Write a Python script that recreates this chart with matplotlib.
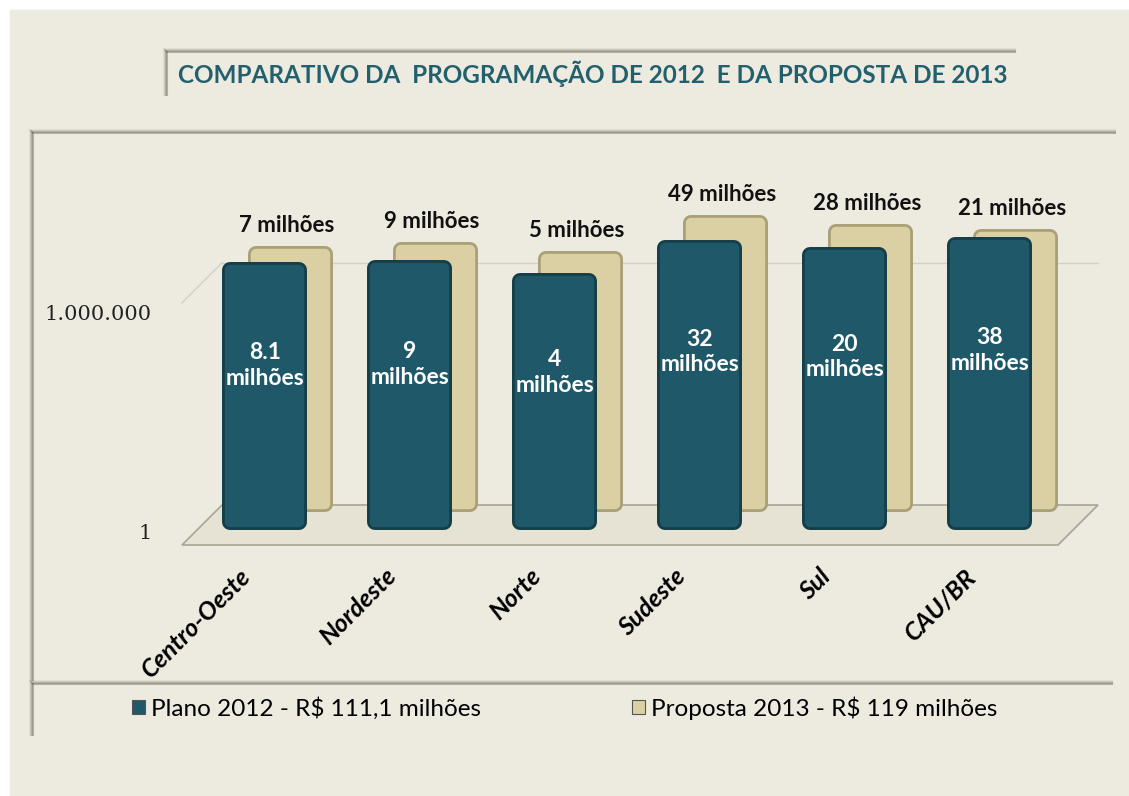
import numpy as np
import matplotlib
matplotlib.use("Agg")
from matplotlib import pyplot as plt
from matplotlib.transforms import offset_copy, ScaledTranslation
from matplotlib.patches import Rectangle, Polygon
from matplotlib.ticker import FixedLocator, FixedFormatter

#%% Dados

regioes = ["Centro-Oeste", "Nordeste", "Norte", "Sudeste", "Sul", "CAU/BR"]
plano_2012 = [8.1e6, 9e6, 4e6, 32e6, 20e6, 38e6]
proposta_2013 = [7e6, 9e6, 5e6, 49e6, 28e6, 21e6]
rot_2012 = ["8.1\nmilhões", "9\nmilhões", "4\nmilhões", "32\nmilhões", "20\nmilhões", "38\nmilhões"]
rot_2013 = ["7 milhões", "9 milhões", "5 milhões", "49 milhões", "28 milhões", "21 milhões"]
legenda = ["Plano 2012 - R$ 111,1 milhões", "Proposta 2013 - R$ 119 milhões"]
titulo = "COMPARATIVO DA  PROGRAMAÇÃO DE 2012  E DA PROPOSTA DE 2013"

#%% Cores

fundo = "#EDEADF"
azul = "#1F5969"
azul_borda = "#153E49"
bege = "#DAD0A3"
bege_borda = "#A9A077"
titulo_cor = "#22606E"

W, H = 1129, 796
fig = plt.figure(figsize=(W / 100, H / 100), dpi=100, facecolor="white")


def px(x, y, w, h):
    # caixa em pixels (origem no topo) -> fração da figura
    return [x / W, 1 - (y + h) / H, w / W, h / H]


# fundo geral
bg = fig.add_axes([0, 0, 1, 1])
bg.set_xlim(0, W)
bg.set_ylim(H, 0)
bg.axis("off")
bg.add_patch(Rectangle((10, 10), W, H, color=fundo, zorder=0))


def sombra(x0, y0, x1, y1):
    # sombra de painel (topo e esquerda)
    for i, a in enumerate([0.45, 0.3, 0.18, 0.08]):
        bg.plot([x0 - i, x1], [y0 - i, y0 - i], color="#6E6A5C", alpha=a, lw=1.5, zorder=1)
        bg.plot([x0 - i, x0 - i], [y0 - i, y1], color="#6E6A5C", alpha=a, lw=1.5, zorder=1)


sombra(167, 52, 1015, 95)
sombra(33, 133, 1115, 680)
sombra(33, 684, 1112, 735)
bg.text(178, 74, titulo, color=titulo_cor, fontsize=17.5, fontweight="bold",
        family="Lato", va="center", ha="left")

#%% Gráfico

ax = fig.add_axes(px(182, 200, 876, 345))
ax.set_facecolor("none")
ax.set_yscale("log")
ax.set_xlim(-0.57, 5.47)
ax.set_ylim(0.234, 6.6e8)
for s in ax.spines.values():
    s.set_visible(False)

x = np.arange(len(regioes))
larg = 0.476
base = 1

# piso e parede de fundo (perspectiva)
dx, dy = 40, 40
fundo_tr = offset_copy(ax.transData, fig=fig, x=dx, y=dy, units="dots")
chao = Polygon([[0, 0], [1, 0], [1 + dx / 876, dy / 345], [dx / 876, dy / 345]],
               closed=True, transform=ax.transAxes, facecolor="#E6E2D4",
               edgecolor="#A8A596", lw=1.2, zorder=0, clip_on=False)
ax.add_patch(chao)
ax.plot([-0.57, 5.47], [1e6, 1e6], color="#D3D0C4", lw=1, transform=fundo_tr, zorder=0, clip_on=False)
ax.plot([-0.57, -0.57 + dx / 145], [1e6, 1e6 * 10 ** (dy / 36.5)], color="#D3D0C4", lw=1,
        zorder=0, clip_on=False)


def barras(valores, cor, borda, tr, z, rotulo=None):
    # contorno arredondado escuro + preenchimento arredondado por cima
    h = np.array(valores) - base
    ax.bar(x, h, bottom=base, width=larg, color=borda, edgecolor=borda, linewidth=11.5,
           joinstyle="round", transform=tr, zorder=z, clip_on=False)
    return ax.bar(x, h, bottom=base, width=larg, color=cor, edgecolor=cor, linewidth=7.5,
                  joinstyle="round", transform=tr, zorder=z + 0.1, clip_on=False, label=rotulo)


# série de trás (2013)
tras_tr = offset_copy(ax.transData, fig=fig, x=26, y=18, units="dots")
b2 = barras(proposta_2013, bege, bege_borda, tras_tr, 2, legenda[1])
for i, v in enumerate(proposta_2013):
    ax.text(x[i], v, rot_2013[i], transform=offset_copy(ax.transData, fig=fig, x=22, y=36, units="dots"),
            ha="center", va="bottom", fontsize=16, fontweight="bold", family="Lato", color="#111111")

# série da frente (2012)
b1 = barras(plano_2012, azul, azul_borda, ax.transData, 3, legenda[0])
for i, v in enumerate(plano_2012):
    ax.text(x[i], v ** 0.62, rot_2012[i], ha="center", va="center", fontsize=16.5,
            fontweight="bold", family="Lato", color="white", linespacing=1.25, zorder=4)

# eixos
ax.yaxis.set_major_locator(FixedLocator([1, 1e6]))
ax.yaxis.set_major_formatter(FixedFormatter(["1", "1.000.000"]))
ax.yaxis.set_minor_locator(FixedLocator([]))
ax.tick_params(axis="y", length=0, pad=22, labelsize=15)
for t in ax.get_yticklabels():
    t.set_family("DejaVu Serif")
    t.set_color("#222222")
    t.set_transform(t.get_transform() + ScaledTranslation(0, -0.1, fig.dpi_scale_trans))

ax.set_xticks(x)
ax.set_xticklabels(regioes, rotation=45, ha="right", rotation_mode="anchor",
                   fontsize=18, fontweight="bold", style="italic", family="Lato")
ax.tick_params(axis="x", length=0, pad=14)
for t in ax.get_xticklabels():
    t.set_transform(t.get_transform() + ScaledTranslation(-0.26, 0, fig.dpi_scale_trans))

# legenda
leg = fig.legend(handles=[b1, b2], labels=legenda, loc="center left",
                 bbox_to_anchor=(110 / W, 1 - 708 / H), ncol=2, frameon=False,
                 prop={"family": "Lato", "size": 17.5}, handlelength=0.55, handleheight=0.55,
                 handletextpad=0.25, columnspacing=6.2)
for h in leg.legend_handles:
    h.set_linewidth(0.8)
    h.set_edgecolor("#555555")

fig.savefig("out.png", dpi=100, facecolor="white")
